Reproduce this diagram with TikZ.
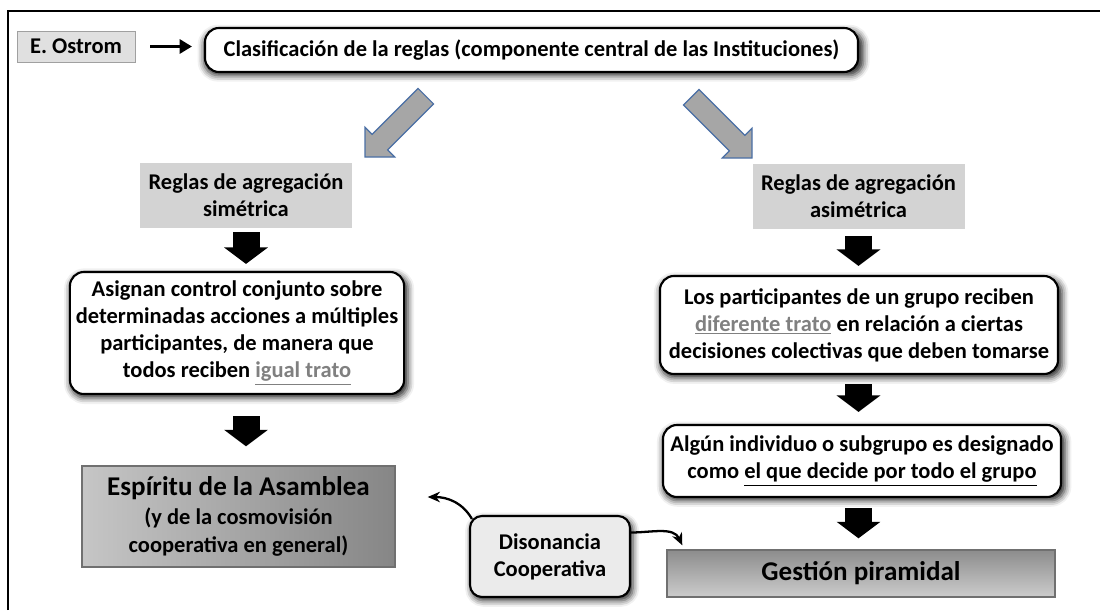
\documentclass[tikz,border=0pt]{standalone}
\usepackage{fontspec}
\setmainfont{Carlito}
\usetikzlibrary{arrows.meta,shadows.blur}
\definecolor{framegray}{HTML}{A0A0A0}
\definecolor{authorfill}{HTML}{E0E0E0}
\definecolor{rulefill}{HTML}{D3D3D3}
\definecolor{arrowfill}{HTML}{A6A6A6}
\definecolor{arrowline}{HTML}{4A6FA5}
\definecolor{tratogray}{HTML}{808080}
\definecolor{disfill}{HTML}{EBEBEB}
\definecolor{resborder}{HTML}{707070}
\begin{document}
\begin{tikzpicture}[font=\bfseries\fontsize{12.8}{15.4}\selectfont, align=center,
    author/.style = {draw=framegray, fill=authorfill, minimum width=2.36cm, minimum height=0.62cm},
    round/.style = {draw=black, line width=1.2pt, rounded corners=0.28cm, fill=white,
        blur shadow={shadow xshift=1.2pt, shadow yshift=-1.8pt, shadow scale=1.01, shadow blur radius=3.5pt, shadow opacity=85}},
    rule/.style = {fill=rulefill, minimum width=4.24cm, minimum height=1.3cm},
    result/.style = {draw=resborder, line width=0.8pt},
    bigarrow/.style = {draw=arrowline, fill=arrowfill, line width=0.7pt, line join=miter},
    down/.style = {line width=0.54cm, -{Triangle[length=0.33cm, width=0.86cm]}},
    curved/.style = {line width=1.3pt, -{Stealth[length=7pt, width=6pt]}}]
    \useasboundingbox (0,0) rectangle (22,12.2);
    \draw[line width=1.4pt] (0.16,0) -- (0.16,11.98) -- (22,11.98);
    \node[author] (ostrom) at (1.52,11.27) {E. Ostrom};
    \node[round, minimum width=13.06cm, minimum height=0.88cm] (clas) at (10.63,11.2)
        {Clasificación de la reglas (componente central de las Instituciones)};
    \node[rule] (regsim) at (4.92,8.29) {Reglas de agregación\\ simétrica};
    \node[rule] (regasim) at (17.17,8.28) {Reglas de agregación\\ asimétrica};
    \begin{scope}[shift={(7.30,9.06)}, rotate=-135]
        \draw[bigarrow] (0,0) -- (-0.42,0.42) -- (-0.42,0.22) -- (-1.72,0.22) -- (-1.72,-0.22)
            -- (-0.42,-0.22) -- (-0.42,-0.42) -- cycle;
    \end{scope}
    \begin{scope}[shift={(15.04,9.04)}, rotate=-45]
        \draw[bigarrow] (0,0) -- (-0.42,0.42) -- (-0.42,0.22) -- (-1.72,0.22) -- (-1.72,-0.22)
            -- (-0.42,-0.22) -- (-0.42,-0.42) -- cycle;
    \end{scope}
    \node[round, minimum width=6.68cm, minimum height=2.44cm] (asignan) at (4.74,5.54)
        {Asignan control conjunto sobre\\ determinadas acciones a múltiples\\ participantes, de manera que\\
         todos reciben \textcolor{tratogray}{\underline{igual trato}}};
    \node[round, minimum width=7.96cm, minimum height=1.96cm] (partic) at (17.18,5.7)
        {Los participantes de un grupo reciben\\ \textcolor{tratogray}{\underline{diferente trato}} en relación a ciertas\\
         decisiones colectivas que deben tomarse};
    \node[round, minimum width=7.96cm, minimum height=1.44cm, inner xsep=1pt] (algun) at (17.24,2.98)
        {Algún individuo o subgrupo es designado\\ como \underline{el que decide por todo el grupo}};
    \node[result, left color=gray!45, right color=gray!95, minimum width=6.26cm, minimum height=2.02cm] (espiritu) at (4.77,1.87)
        {{\fontsize{15.4}{18}\selectfont Espíritu de la Asamblea}\\[1pt] (y de la cosmovisión\\[1pt] cooperativa en general)};
    \node[result, top color=gray!90, bottom color=gray!40, minimum width=7.76cm, minimum height=0.94cm] (gestion) at (17.22,0.73)
        {\fontsize{15.4}{18}\selectfont Gestión piramidal};
    \node[round, fill=disfill, rounded corners=0.24cm, minimum width=3.2cm, minimum height=1.62cm] (dison) at (11.0,1.07)
        {Disonancia\\ Cooperativa};
    \draw[line width=1.6pt, -{Triangle[length=7pt, width=8pt]}, shorten <=0.3cm, shorten >=0.24cm]
        (ostrom.east) -- (ostrom.east -| clas.west);
    \draw[down, shorten <=0.08cm, shorten >=0.14cm] (regsim.south) -- (regsim.south |- asignan.north);
    \draw[down, shorten <=0.42cm, shorten >=0.38cm] (regsim.south |- asignan.south) -- (regsim.south |- espiritu.north);
    \draw[down, shorten <=0.14cm, shorten >=0.18cm] (regasim.south) -- (regasim.south |- partic.north);
    \draw[down, shorten <=0.18cm, shorten >=0.24cm] (regasim.south |- partic.south) -- (regasim.south |- algun.north);
    \draw[down, shorten <=0.2cm, shorten >=0.22cm] (regasim.south |- algun.south) -- (regasim.south |- gestion.north);
    \draw[curved] ([shift={(0.06,-0.08)}]dison.north west) to[out=120, in=0] ([shift={(0.64,0.39)}]espiritu.east);
    \draw[curved] ([yshift=0.48cm]dison.east) to[out=0, in=115] ([shift={(0.32,0.08)}]gestion.north west);
\end{tikzpicture}
\end{document}
